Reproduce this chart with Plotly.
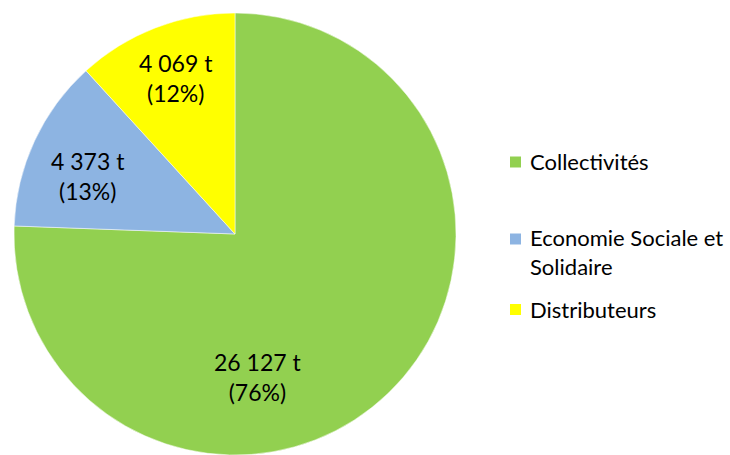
import plotly.graph_objects as go

# Tonnages collected per channel
categories = ["Collectivités", "Economie Sociale et Solidaire", "Distributeurs"]
tonnages = [26127, 4373, 4069]
colors = ["#92D050", "#8DB4E2", "#FFFF00"]

W, H = 730, 455
FONT = "Lato, Carlito, Calibri, sans-serif"

total = sum(tonnages)
shares = [round(100 * v / total) for v in tonnages]


def fmt_tonnes(v):
    return f"{v:,}".replace(",", " ") + " t"


def px_x(x):
    return x / W


def px_y(y):
    return (H - y) / H


fig = go.Figure(
    go.Pie(
        labels=categories,
        values=tonnages,
        sort=False,
        direction="clockwise",
        rotation=0,
        marker=dict(colors=colors, line=dict(color="white", width=0.5)),
        textinfo="none",
        hoverinfo="label+value+percent",
        domain=dict(x=[px_x(14), px_x(456)], y=[0, px_y(13)]),
        showlegend=False,
    )
)

# Data labels placed inside each slice
label_pos = [(257, 377), (88, 176), (176, 78)]
annotations = []
for (x, y), v, p in zip(label_pos, tonnages, shares):
    annotations.append(
        dict(
            x=px_x(x), y=px_y(y), xref="paper", yref="paper",
            text=f"{fmt_tonnes(v)}<br>({p}%)",
            showarrow=False, xanchor="center", yanchor="middle",
            font=dict(family=FONT, size=23, color="#000000"),
        )
    )

# Legend drawn on the right: colour squares and labels
legend_rows = [162, 252, 309]
legend_sq = [162, 239, 309.5]
shapes = []
for name, col, ty, sy in zip(categories, colors, legend_rows, legend_sq):
    shapes.append(
        dict(
            type="rect", xref="paper", yref="paper",
            x0=px_x(510), x1=px_x(521), y0=px_y(sy + 5.5), y1=px_y(sy - 5.5),
            fillcolor=col, line=dict(width=0),
        )
    )
    annotations.append(
        dict(
            x=px_x(528), y=px_y(ty), xref="paper", yref="paper",
            text=name.replace(" et Solidaire", " et<br>Solidaire"),
            showarrow=False, xanchor="left", yanchor="middle", align="left",
            font=dict(family=FONT, size=22, color="#000000"),
        )
    )

fig.update_layout(
    width=W, height=H,
    margin=dict(l=0, r=0, t=0, b=0),
    paper_bgcolor="white", plot_bgcolor="white",
    annotations=annotations, shapes=shapes,
)

fig.write_html("out.html")
